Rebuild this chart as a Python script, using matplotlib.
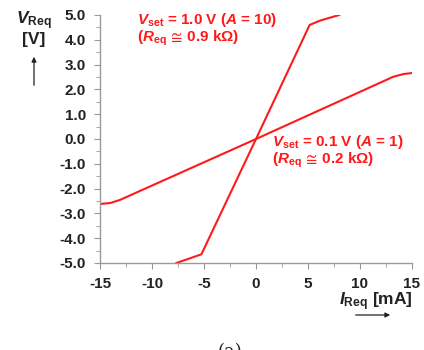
import matplotlib
matplotlib.use("Agg")
import matplotlib.pyplot as plt
import numpy as np

plt.rcParams['font.family'] = ['Liberation Sans', 'DejaVu Sans']
plt.rcParams['font.weight'] = 'bold'
plt.rcParams['axes.unicode_minus'] = False
plt.rcParams['mathtext.fontset'] = 'custom'
plt.rcParams['mathtext.rm'] = 'Liberation Sans:bold'
plt.rcParams['mathtext.it'] = 'Liberation Sans:bold:italic'
plt.rcParams['mathtext.bf'] = 'Liberation Sans:bold'
plt.rcParams['mathtext.fallback'] = 'stixsans'

# Transfer curves V_Req vs I_Req
i_a10 = [-7.65, -5.25, 0.0, 5.16, 6.2, 8.0]
v_a10 = [-5.0, -4.65, 0.0, 4.6, 4.78, 5.0]

i_a1 = [-15.0, -14.0, -13.1, 0.0, 13.2, 14.2, 15.0]
v_a1 = [-2.62, -2.58, -2.46, 0.0, 2.51, 2.62, 2.66]

x_ticks = [-15, -10, -5, 0, 5, 10, 15]
y_ticks = [-5.0, -4.0, -3.0, -2.0, -1.0, 0.0, 1.0, 2.0, 3.0, 4.0, 5.0]

red = '#ff1a1a'
dark = '#222222'

fig = plt.figure(figsize=(4.24, 3.5), dpi=100)
ax = fig.add_axes([100/424, 1 - 263/350, 312/424, 248/350])

ax.plot(i_a10, v_a10, color=red, lw=1.5, solid_joinstyle='round')
ax.plot(i_a1, v_a1, color=red, lw=1.5, solid_joinstyle='round')

ax.set_xlim(-15, 15)
ax.set_ylim(-5, 5)
ax.set_xticks(x_ticks)
ax.set_xticklabels([str(t) for t in x_ticks])
ax.set_yticks(y_ticks)
ax.set_yticklabels([f"{t:.1f}" for t in y_ticks])
ax.set_xticks(np.arange(-12.5, 15, 5), minor=True)
ax.set_yticks(np.arange(-4.5, 5, 1.0), minor=True)

for s in ['top', 'right']:
    ax.spines[s].set_visible(False)
for s in ['left', 'bottom']:
    ax.spines[s].set_color('#999999')
    ax.spines[s].set_linewidth(1.0)
ax.tick_params(which='major', direction='out', length=4, color='#999999',
               labelsize=11, labelcolor=dark, pad=6)
ax.tick_params(which='minor', direction='out', length=3, color='#999999')
ax.tick_params(axis='x', which='major', pad=6)
for lab in ax.get_xticklabels() + ax.get_yticklabels():
    lab.set_fontweight('bold')

# Annotations
ann = dict(color=red, fontsize=11, fontweight='bold', va='baseline', ha='left')
fig.text(137/424, 1 - 24/350, r"$V_{\rm set}$ = 1.0 V ($A$ = 10)", **ann)
fig.text(137/424, 1 - 42/350, r"($R_{\rm eq}$ $\!\cong\!$ 0.9 k$\Omega$)", **ann)
fig.text(272/424, 1 - 146/350, r"$V_{\rm set}$ = 0.1 V ($A$ = 1)", **ann)
fig.text(272/424, 1 - 164/350, r"($R_{\rm eq}$ $\!\cong\!$ 0.2 k$\Omega$)", **ann)

# Axis labels with arrows
fig.text(34/424, 1 - 24/350, r"$V_{\rm Req}$", color=dark, fontsize=12.5,
         fontweight='bold', va='baseline', ha='center')
fig.text(34/424, 1 - 44/350, "[V]", color=dark, fontsize=12.5,
         fontweight='bold', va='baseline', ha='center')
fig.add_artist(matplotlib.patches.FancyArrowPatch(
    (34/424, 1 - 88/350), (34/424, 1 - 54/350), transform=fig.transFigure,
    arrowstyle='-|>', mutation_scale=7, color=dark, lw=0.9))

fig.text(413/424, 1 - 305/350, r"$I_{\rm Req}$ [mA]", color=dark, fontsize=12.5,
         fontweight='bold', va='baseline', ha='right')
fig.add_artist(matplotlib.patches.FancyArrowPatch(
    (353/424, 1 - 315/350), (393/424, 1 - 315/350), transform=fig.transFigure,
    arrowstyle='-|>', mutation_scale=7, color=dark, lw=0.9))

fig.text(230/424, 1 - 343/350, "(a)", color=dark, fontsize=13,
         family='DejaVu Serif', fontweight='normal', va='top', ha='center')

fig.savefig("out.png", dpi=100)
